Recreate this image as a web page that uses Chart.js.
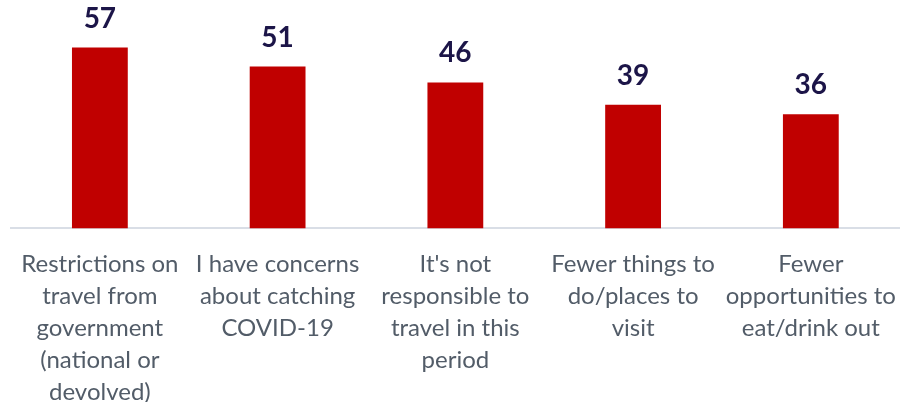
<!DOCTYPE html>
<html>
<head>
<meta charset="utf-8">
<script src="https://cdn.jsdelivr.net/npm/chart.js@4/dist/chart.umd.min.js"></script>
<style>
  html, body { margin: 0; padding: 0; background: #ffffff; }
  #wrap { width: 908px; height: 402px; position: relative; }
</style>
</head>
<body>
<div id="wrap"><canvas id="reasonsChart"></canvas></div>
<script>
// Reasons for not travelling (% of respondents)
const categories = [
    ['Restrictions on', 'travel from', 'government', '(national or', 'devolved)'],
    ['I have concerns', 'about catching', 'COVID-19'],
    ["It's not", 'responsible to', 'travel in this', 'period'],
    ['Fewer things to', 'do/places to', 'visit'],
    ['Fewer', 'opportunities to', 'eat/drink out']
];
const percentages = [57, 51, 46, 39, 36];

const BAR_RED = '#c00000';
const LABEL_NAVY = '#1c1548';
const TEXT_GREY = '#525c68';

// value labels above each bar
const valueLabels = {
    id: 'valueLabels',
    afterDatasetsDraw(chart) {
        const ctx = chart.ctx;
        const meta = chart.getDatasetMeta(0);
        ctx.save();
        ctx.font = 'bold 28px Lato, sans-serif';
        ctx.fillStyle = LABEL_NAVY;
        ctx.textAlign = 'center';
        ctx.textBaseline = 'alphabetic';
        meta.data.forEach((bar, i) => {
            ctx.fillText(String(percentages[i]), bar.x, bar.y - 20);
        });
        ctx.restore();
    }
};

new Chart(document.getElementById('reasonsChart'), {
    type: 'bar',
    data: {
        labels: categories,
        datasets: [{
            data: percentages,
            backgroundColor: BAR_RED,
            borderWidth: 0,
            barPercentage: 1,
            categoryPercentage: 0.314
        }]
    },
    options: {
        responsive: true,
        maintainAspectRatio: false,
        animation: false,
        layout: { padding: { left: 11, right: 1, top: 0, bottom: 0 } },
        plugins: {
            legend: { display: false },
            tooltip: { enabled: false }
        },
        scales: {
            x: {
                grid: { display: false },
                border: { display: true, color: '#d9dee6', width: 2 },
                ticks: {
                    color: TEXT_GREY,
                    font: { family: 'Lato, sans-serif', size: 24, lineHeight: 1.33 },
                    padding: 12,
                    autoSkip: false,
                    maxRotation: 0,
                    minRotation: 0
                },
                // the last label line may run close to the bottom edge
                afterFit(scale) {
                    scale.height -= 18;
                }
            },
            y: {
                display: false,
                min: 0,
                max: 72
            }
        }
    },
    plugins: [valueLabels]
});
</script>
</body>
</html>
